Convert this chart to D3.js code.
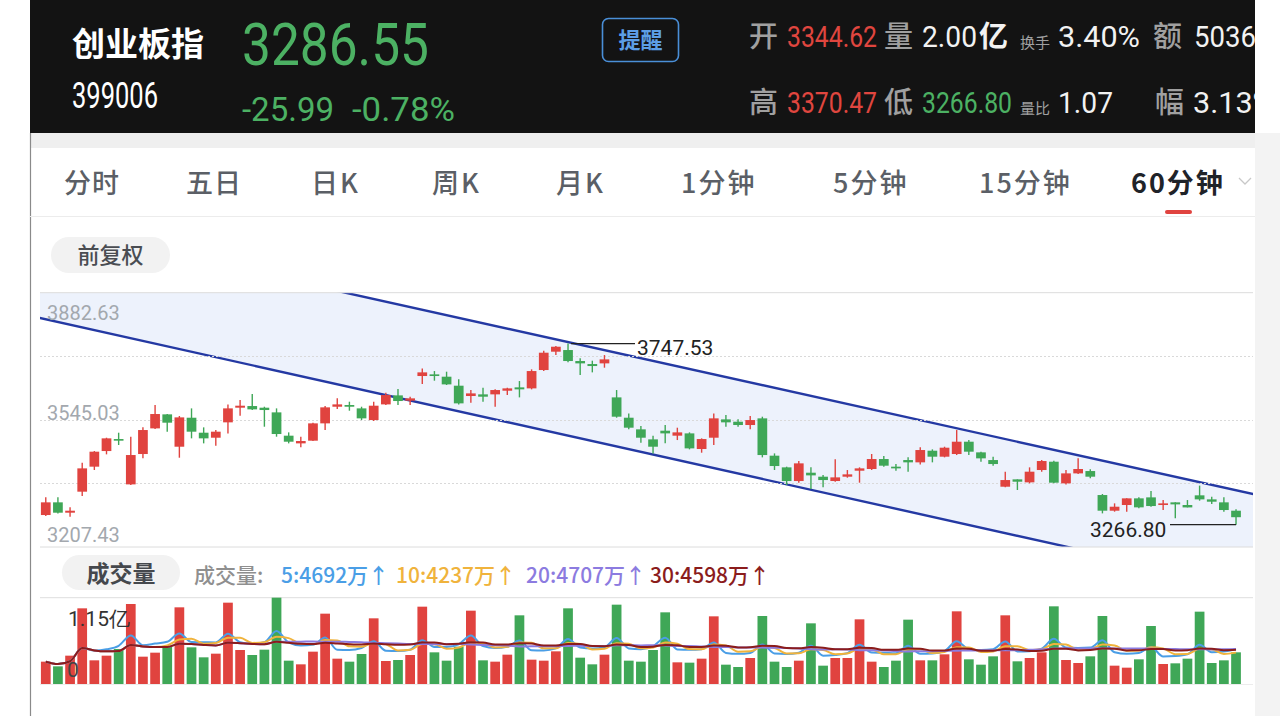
<!DOCTYPE html>
<html><head><meta charset="utf-8">
<script src="https://cdn.jsdelivr.net/npm/d3@7"></script>
<style>html,body{margin:0;padding:0;background:#fff;overflow:hidden}</style>
</head><body>
<svg id="c" width="1280" height="716"></svg>
<script>
// ---------- DATA ----------
const opens = [3292.3,3326.0,3298.5,3354.3,3420.7,3462.2,3494.1,3373.7,3454.3,3522.4,
3559.6,3473.7,3550.7,3510.9,3497.6,3538.4,3577.3,3581.7,3577.3,3564.9,
3503.0,3482.6,3489.7,3535.7,3579.9,3584.4,3575.5,3544.5,3586.1,3610.0,
3595.9,3661.4,3665.8,3659.6,3635.7,3608.3,3612.7,3612.7,3622.4,3631.3,
3628.6,3677.3,3726.0,3730.4,3701.2,3693.2,3695.0,3604.7,3550.7,3519.8,
3493.2,3516.2,3503.0,3509.1,3467.6,3497.6,3546.3,3540.1,3531.3,3549.0,
3449.9,3418.9,3382.6,3404.7,3394.1,3382.6,3394.1,3410.0,3414.5,3441.0,
3420.7,3438.3,3432.2,3463.1,3447.2,3454.3,3487.0,3458.7,3438.3,3367.5,
3387.0,3379.1,3411.8,3433.9,3376.4,3402.9,3409.1,3345.4,3303.8,3318.9,
3336.6,3339.2,3318.9,3326.0,3318.9,3344.62,3333.9,3326.0,3303.8];
const highs = [3339.2,3339.2,3312.7,3431.3,3462.2,3497.6,3510.9,3500.3,3525.1,3584.4,
3560.5,3555.2,3575.5,3525.1,3518.0,3586.1,3597.7,3613.6,3579.9,3575.5,
3511.8,3500.3,3537.5,3581.7,3602.1,3593.2,3579.9,3593.2,3617.1,3626.9,
3606.5,3681.7,3674.6,3672.9,3652.5,3624.2,3630.4,3626.0,3630.4,3648.1,
3679.1,3728.6,3741.0,3747.53,3708.3,3702.1,3717.1,3624.2,3562.2,3528.6,
3503.0,3531.3,3524.2,3511.8,3495.9,3562.2,3557.8,3546.3,3555.2,3553.4,
3456.0,3420.7,3435.7,3418.9,3398.5,3440.1,3411.8,3418.9,3454.3,3449.0,
3427.7,3445.4,3472.0,3466.7,3473.7,3518.0,3491.4,3460.5,3447.2,3407.4,
3387.0,3418.9,3438.3,3436.6,3411.8,3442.8,3413.6,3348.1,3323.3,3336.6,
3339.2,3356.0,3332.1,3326.0,3332.1,3370.47,3341.0,3339.2,3307.4];
const lows = [3289.7,3296.7,3287.9,3342.8,3411.8,3453.4,3478.2,3372.0,3442.8,3520.7,
3513.6,3444.5,3495.9,3482.6,3476.4,3509.1,3556.1,3571.5,3526.8,3500.3,
3482.6,3472.0,3488.8,3518.0,3573.7,3569.3,3544.5,3541.9,3584.4,3584.4,
3584.4,3640.1,3649.0,3637.5,3586.1,3590.6,3593.2,3579.9,3610.9,3604.7,
3626.0,3674.6,3717.1,3697.7,3664.0,3671.1,3683.5,3550.7,3519.8,3484.4,
3456.0,3482.6,3491.4,3466.7,3457.8,3478.2,3526.8,3526.8,3519.8,3445.4,
3411.8,3372.0,3378.2,3361.4,3365.8,3380.8,3391.4,3378.2,3411.8,3420.7,
3410.0,3407.4,3426.8,3432.2,3445.4,3451.6,3451.6,3433.9,3423.3,3365.8,
3358.7,3376.4,3407.4,3376.4,3373.7,3401.2,3389.7,3296.7,3301.2,3301.2,
3310.0,3314.4,3305.6,3283.5,3312.54,3330.4,3321.5,3301.2,3266.80];
const closes = [3326.0,3298.5,3303.8,3416.2,3460.5,3495.9,3489.7,3451.6,3518.0,3560.5,
3537.5,3551.6,3513.6,3495.9,3513.6,3575.5,3582.6,3572.9,3571.1,3507.4,
3487.0,3488.8,3535.7,3578.2,3586.1,3579.9,3549.0,3582.6,3610.9,3595.0,
3602.1,3671.1,3661.4,3639.2,3588.8,3615.3,3606.5,3624.2,3628.6,3626.0,
3674.6,3723.3,3739.2,3701.2,3695.0,3687.9,3705.6,3553.4,3524.2,3497.6,
3473.7,3509.1,3511.8,3469.3,3494.1,3549.0,3538.4,3531.3,3544.5,3451.6,
3422.4,3382.6,3429.5,3397.6,3385.2,3392.3,3400.3,3416.2,3441.0,3423.3,
3416.2,3432.2,3464.9,3447.2,3471.1,3487.0,3460.5,3442.8,3427.7,3385.2,
3380.8,3407.4,3435.7,3378.2,3402.9,3414.5,3394.1,3303.8,3314.4,3336.6,
3312.7,3316.2,3323.3,3320.6,3312.54,3333.9,3327.7,3305.6,3286.55];
// volume in 万 (10k)
const volumes = [2976,2354,3776,10083,3154,3776,4664,10661,3642,4175,
5019,10217,4886,3554,4042,10838,4531,3865,4575,11505,
3109,2621,4309,9373,3376,2976,3998,8751,3065,3198,
3865,10305,4220,3109,4975,9772,3154,2976,3909,9151,
3243,3109,4353,10083,3509,2621,3909,10572,3109,2976,
4531,9550,2887,2843,3376,9017,2576,2265,3465,9062,
2976,2265,3109,8084,2443,3465,3465,8617,2976,2265,
3109,8573,3154,3154,3953,9684,3287,2576,3687,9151,
3021,3465,4220,10350,3198,2798,3687,9062,2443,2177,
3287,7729,2665,2754,3376,9639,2798,3154,4220];
const priceTicks = [3882.63, 3545.03, 3207.43];
const volMax = 11500;
const volTickLabels = ["1.15亿", "0"];
const tabs = ["分时","五日","日K","周K","月K","1分钟","5分钟","15分钟","60分钟"];
const maPeriods = [5, 10, 20, 30];
const maTexts = ["5:4692万↑","10:4237万↑","20:4707万↑","30:4598万↑"];
const upperChannel = [[43, 3751.5], [98, 3358.2]];
const lowerChannel = [[0, 3812.0], [80, 3237.2]];
const maxMark = {i: 43, v: 3747.53};
const minMark = {i: 98, v: 3266.80};

// ---------- STYLE ----------
const RED = "#e0433f", GREEN = "#3fa757";
const CJK = "'Noto Sans CJK SC','Noto Sans',sans-serif";
const NUM = "Roboto,'Noto Sans',sans-serif";
const maColors = ["#4a9ee6", "#f0b33c", "#8c7be0", "#8b1c1c"];

const svg = d3.select("#c");

// page frame
svg.append("rect").attr("x",0).attr("y",0).attr("width",1280).attr("height",716).attr("fill","#fff");
svg.append("rect").attr("x",1255).attr("y",133).attr("width",25).attr("height",583).attr("fill","#f3f3f3");
svg.append("rect").attr("x",30).attr("y",0).attr("width",1225).attr("height",133).attr("fill","#131313");
svg.append("rect").attr("x",30).attr("y",133).attr("width",1225).attr("height",15).attr("fill","#efefef");
svg.append("line").attr("x1",30.5).attr("x2",30.5).attr("y1",133).attr("y2",716).attr("stroke","#8a8a8a").attr("stroke-width",1.2);

// ---------- HEADER ----------
const defs = svg.append("defs");
defs.append("clipPath").attr("id","hclip").append("rect").attr("x",30).attr("y",0).attr("width",1225).attr("height",133);
const H = svg.append("g").attr("clip-path","url(#hclip)");
function txt(g, s, x, y, o) {
  const t = g.append("text").attr("x",x).attr("y",y).text(s)
    .attr("font-family",o.f||NUM).attr("font-size",o.s).attr("fill",o.c)
    .attr("font-weight",o.w||400);
  if (o.a) t.attr("text-anchor",o.a);
  if (o.ls) t.attr("letter-spacing",o.ls);
  if (o.len) {
    // condensed look: horizontally scale the text to the wanted width
    const w = t.node().getComputedTextLength();
    t.attr("x",0).attr("y",0).attr("transform",`translate(${x},${y}) scale(${o.len/w},1)`);
  }
  return t;
}
txt(H,"创业板指",72,56,{f:CJK,s:33,c:"#fff",w:700});
txt(H,"3286.55",242,65,{s:60,c:"#4cb163",len:187});
txt(H,"399006",72,108,{s:36,c:"#fff",len:86});
txt(H,"-25.99",242,121,{s:34,c:"#4cb163",len:92});
txt(H,"-0.78%",352,121,{s:34,c:"#4cb163",len:103});
H.append("rect").attr("x",602.5).attr("y",18.5).attr("width",76).attr("height",43).attr("rx",6)
  .attr("fill","none").attr("stroke","#4a8fd8").attr("stroke-width",1.6);
txt(H,"提醒",640.5,48,{f:CJK,s:22,c:"#5c9ee6",w:700,a:"middle"});
// right stats row 1
txt(H,"开",749,47,{f:CJK,s:29,c:"#a0a0a0",w:500});
txt(H,"3344.62",787,47,{s:30,c:"#e0463f",len:90});
txt(H,"量",884,47,{f:CJK,s:29,c:"#a0a0a0",w:500});
txt(H,"2.00",922,47,{s:30,c:"#f2f2f2",len:55});
txt(H,"亿",979,47,{f:CJK,s:29,c:"#f2f2f2",w:700});
txt(H,"换手",1020,48,{f:CJK,s:15,c:"#a0a0a0"});
txt(H,"3.40%",1058,47,{s:30,c:"#f2f2f2",len:82});
txt(H,"额",1153,47,{f:CJK,s:29,c:"#a0a0a0",w:500});
txt(H,"5036",1194,47,{s:30,c:"#f2f2f2",len:62});
// right stats row 2
txt(H,"高",749,113,{f:CJK,s:29,c:"#a0a0a0",w:500});
txt(H,"3370.47",787,113,{s:30,c:"#e0463f",len:90});
txt(H,"低",884,113,{f:CJK,s:29,c:"#a0a0a0",w:500});
txt(H,"3266.80",922,113,{s:30,c:"#4cb163",len:90});
txt(H,"量比",1020,114,{f:CJK,s:15,c:"#a0a0a0"});
txt(H,"1.07",1058,113,{s:30,c:"#f2f2f2",len:55});
txt(H,"幅",1155,113,{f:CJK,s:29,c:"#a0a0a0",w:500});
txt(H,"3.13%",1193,113,{s:30,c:"#f2f2f2",len:82});

// ---------- TABS ----------
const tabX = [64,186,311,432,556,681,833,979,1131];
tabs.forEach((t,i)=>{
  const last = i===tabs.length-1;
  txt(svg,t,tabX[i],193,{f:CJK,s:27,c:last?"#1f2329":"#5b5f66",w:last?700:500,ls:/[0-9K]/.test(t)?2:1});
});
svg.append("path").attr("d","M1239,178 L1245,184 L1251,178").attr("fill","none").attr("stroke","#c8c8c8").attr("stroke-width",1.3);
svg.append("rect").attr("x",1165).attr("y",210).attr("width",27).attr("height",4).attr("rx",2).attr("fill","#e0433f");
svg.append("line").attr("x1",30).attr("x2",1255).attr("y1",216.5).attr("y2",216.5).attr("stroke","#ececec");

// 前复权 pill
svg.append("rect").attr("x",51).attr("y",237).attr("width",119).attr("height",36).attr("rx",18).attr("fill","#f2f2f2");
txt(svg,"前复权",110.5,263,{f:CJK,s:22,c:"#4a4d52",w:500,a:"middle"});

// ---------- PRICE CHART ----------
const X0 = 40, X1 = 1253, PY0 = 292.7, PY1 = 547;
const n = closes.length;
const x = d3.scaleBand().domain(d3.range(n)).range([39.7, 1242.1]).paddingInner(0.2).paddingOuter(0.1);
const xc = i => x(i) + x.bandwidth()/2;
const y = d3.scaleLinear().domain([priceTicks[2], priceTicks[0]]).range([PY1, PY0]);

defs.append("clipPath").attr("id","pclip").append("rect").attr("x",X0).attr("y",PY0).attr("width",X1-X0).attr("height",PY1-PY0);

// channel
function lineFn(pts){
  const [i1,v1]=pts[0],[i2,v2]=pts[1];
  const xs1=xc(i1), ys1=y(v1), xs2=xc(i2), ys2=y(v2);
  const k=(ys2-ys1)/(xs2-xs1);
  return xx => ys1 + k*(xx-xs1);
}
const up = lineFn(upperChannel), lo = lineFn(lowerChannel);
const ch = svg.append("g").attr("clip-path","url(#pclip)");
const ex0 = X0-5, ex1 = X1+5;
ch.append("path").attr("d",`M${ex0},${up(ex0)}L${ex1},${up(ex1)}L${ex1},${lo(ex1)}L${ex0},${lo(ex0)}Z`).attr("fill","#edf2fc");

// grid
const gridVals = d3.range(5).map(k => priceTicks[2] + (priceTicks[0]-priceTicks[2])*k/4);
svg.append("g").selectAll("line").data(gridVals.slice(1,4)).join("line")
  .attr("x1",X0).attr("x2",X1).attr("y1",d=>Math.round(y(d))+0.5).attr("y2",d=>Math.round(y(d))+0.5)
  .attr("stroke","#d9d9d9").attr("stroke-dasharray","2,2");
svg.append("line").attr("x1",X0).attr("x2",X1).attr("y1",PY0).attr("y2",PY0).attr("stroke","#dcdcdc");
svg.append("line").attr("x1",X0).attr("x2",X1).attr("y1",PY1).attr("y2",PY1).attr("stroke","#dcdcdc");

ch.append("line").attr("x1",ex0).attr("y1",up(ex0)).attr("x2",ex1).attr("y2",up(ex1)).attr("stroke","#2439a3").attr("stroke-width",2.4);
ch.append("line").attr("x1",ex0).attr("y1",lo(ex0)).attr("x2",ex1).attr("y2",lo(ex1)).attr("stroke","#2439a3").attr("stroke-width",2.4);

// price labels
const tickBase = [319.5, 420, 541.5];
priceTicks.forEach((v,k)=>{
  txt(svg,v.toFixed(2),47,tickBase[k],{s:20,c:"#a3a8ae"});
});

// candles
const cg = svg.append("g");
const idx = d3.range(n);
const col = i => closes[i] >= opens[i] ? RED : GREEN;
cg.selectAll("line").data(idx).join("line")
  .attr("x1",i=>xc(i)).attr("x2",i=>xc(i)).attr("y1",i=>y(highs[i])).attr("y2",i=>y(lows[i]))
  .attr("stroke",col).attr("stroke-width",1.4);
cg.selectAll("rect").data(idx).join("rect")
  .attr("x",i=>x(i)).attr("width",x.bandwidth())
  .attr("y",i=>y(Math.max(opens[i],closes[i])))
  .attr("height",i=>Math.max(1.6, Math.abs(y(opens[i])-y(closes[i]))))
  .attr("fill",col);

// max / min annotations
const mxX = xc(maxMark.i), mxY = y(maxMark.v);
svg.append("line").attr("x1",mxX+3).attr("x2",635).attr("y1",mxY).attr("y2",mxY).attr("stroke","#222").attr("stroke-width",1.3);
txt(svg,maxMark.v.toFixed(2),637,355,{s:21,c:"#222"});
const mnX = xc(minMark.i), mnY = y(minMark.v);
svg.append("line").attr("x1",1170).attr("x2",mnX).attr("y1",mnY).attr("y2",mnY).attr("stroke","#222").attr("stroke-width",1.3);
txt(svg,minMark.v.toFixed(2),1090,537,{s:21,c:"#222"});

// ---------- VOLUME ----------
svg.append("rect").attr("x",62).attr("y",555).attr("width",118).attr("height",35).attr("rx",17.5).attr("fill","#f2f2f2");
txt(svg,"成交量",121,582,{f:CJK,s:23,c:"#45484d",w:700,a:"middle"});
txt(svg,"成交量:",194,583,{f:CJK,s:21,c:"#8f8f8f",w:500});
const maX = [281,396,526,650];
maTexts.forEach((t,k)=>{
  txt(svg,t,maX[k],583,{f:CJK,s:21,c:maColors[k],w:500});
});

const VY0 = 597.7, VY1 = 684;
const vy = d3.scaleLinear().domain([0, volMax]).range([VY1, VY0]);
svg.append("line").attr("x1",X0).attr("x2",X1).attr("y1",VY0).attr("y2",VY0).attr("stroke","#dedede");
svg.append("line").attr("x1",X0).attr("x2",X1).attr("y1",VY1+0.5).attr("y2",VY1+0.5).attr("stroke","#ececec");
svg.append("g").selectAll("rect").data(idx).join("rect")
  .attr("x",i=>x(i)).attr("width",x.bandwidth())
  .attr("y",i=>vy(volumes[i])).attr("height",i=>VY1-vy(volumes[i]))
  .attr("fill",col);

maPeriods.forEach((p,k)=>{
  const ma = idx.map(i => d3.mean(volumes.slice(Math.max(0,i-p+1), i+1)));
  svg.append("path").datum(idx)
    .attr("d", d3.line().x(i=>xc(i)).y(i=>vy(ma[i])).curve(d3.curveMonotoneX))
    .attr("fill","none").attr("stroke",maColors[k]).attr("stroke-width",2);
});
txt(svg,volTickLabels[0],68,626,{s:21,c:"#333"});
txt(svg,volTickLabels[1],67,677,{s:21,c:"#444"});
</script>
</body></html>
